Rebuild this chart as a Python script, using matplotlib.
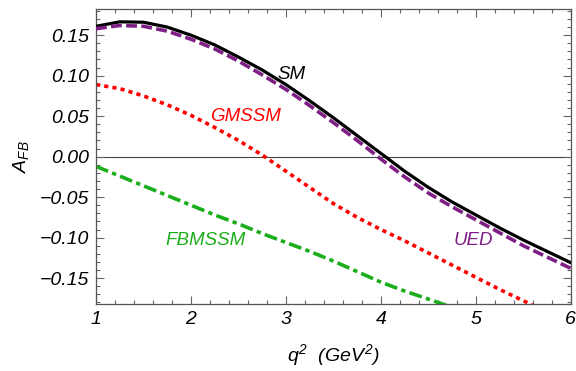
import numpy as np
import matplotlib
matplotlib.use('Agg')
import matplotlib.pyplot as plt
from matplotlib.ticker import MultipleLocator

plt.rcParams['font.family'] = ['Liberation Sans', 'DejaVu Sans']
plt.rcParams['font.style'] = 'italic'
plt.rcParams['mathtext.fontset'] = 'custom'
plt.rcParams['mathtext.it'] = 'Liberation Sans:italic'
plt.rcParams['mathtext.rm'] = 'Liberation Sans:italic'

# q^2 grid (GeV^2)
q2 = [1.0, 1.25, 1.5, 1.75, 2.0, 2.25, 2.5, 2.75, 3.0, 3.25, 3.5,
      3.75, 4.0, 4.25, 4.5, 4.75, 5.0, 5.25, 5.5, 5.75, 6.0]

sm = [0.161, 0.1665, 0.166, 0.160, 0.150, 0.138, 0.123, 0.107, 0.089, 0.069, 0.048,
      0.026, 0.004, -0.018, -0.038, -0.056, -0.072, -0.088, -0.103, -0.117, -0.131]
ued = [0.158, 0.162, 0.161, 0.155, 0.145, 0.133, 0.118, 0.101, 0.083, 0.063, 0.042,
       0.020, -0.003, -0.025, -0.045, -0.062, -0.078, -0.094, -0.110, -0.124, -0.138]
gmssm = [0.089, 0.084, 0.075, 0.064, 0.051, 0.036, 0.020, 0.002, -0.018, -0.038, -0.058,
         -0.075, -0.090, -0.104, -0.119, -0.134, -0.149, -0.164, -0.178, -0.192, -0.205]
fbmssm = [-0.012, -0.024, -0.036, -0.048, -0.060, -0.072, -0.083, -0.095, -0.106, -0.117, -0.129,
          -0.142, -0.155, -0.166, -0.176, -0.186, -0.196, -0.206, -0.216, -0.226, -0.236]

fig = plt.figure(figsize=(5.76, 3.71), dpi=100)
ax = fig.add_axes([0.1667, 0.1806, 0.8243, 0.7944])

green = '#1aae1a'
purple = '#7f1f86'

ax.axhline(0, color='#444444', lw=0.8, zorder=1)
ax.plot(q2, fbmssm, color=green, lw=2.6, dashes=(3.6, 1.2, 1.2, 1.2), zorder=2)
ax.plot(q2, gmssm, color='red', lw=2.6, dashes=(1.15, 1.15), zorder=2)
ax.plot(q2, sm, color='black', lw=2.3, zorder=3)
ax.plot(q2, ued, color=purple, lw=2.6, dashes=(3.0, 1.2), zorder=4)

ax.text(3.06, 0.101, 'SM', color='black', fontsize=13.5, ha='center', va='center')
ax.text(2.57, 0.049, 'GMSSM', color='red', fontsize=13.5, ha='center', va='center')
ax.text(2.15, -0.103, 'FBMSSM', color=green, fontsize=13.5, ha='center', va='center')
ax.text(4.97, -0.103, 'UED', color=purple, fontsize=13.5, ha='center', va='center')

ax.set_xlim(1, 6)
ax.set_ylim(-0.182, 0.182)
ax.xaxis.set_major_locator(MultipleLocator(1))
ax.xaxis.set_minor_locator(MultipleLocator(0.2))
ax.yaxis.set_major_locator(MultipleLocator(0.05))
ax.yaxis.set_minor_locator(MultipleLocator(0.01))
ax.yaxis.set_major_formatter(plt.FuncFormatter(lambda v, p: ('%.2f' % v).replace('-', '\u2212')))

ax.tick_params(which='both', direction='in', top=True, right=True, color='#666666',
               labelsize=14, width=0.8)
ax.tick_params(which='major', length=6, pad=5)
ax.tick_params(which='minor', length=3)
for s in ax.spines.values():
    s.set_color('#555555')
    s.set_linewidth(0.9)

ax.set_xlabel(r'$q^2\ \ (GeV^2)$', fontsize=14, labelpad=10)
ax.set_ylabel(r'$A_{FB}$', fontsize=14, labelpad=6)

fig.savefig('out.png', dpi=100)
